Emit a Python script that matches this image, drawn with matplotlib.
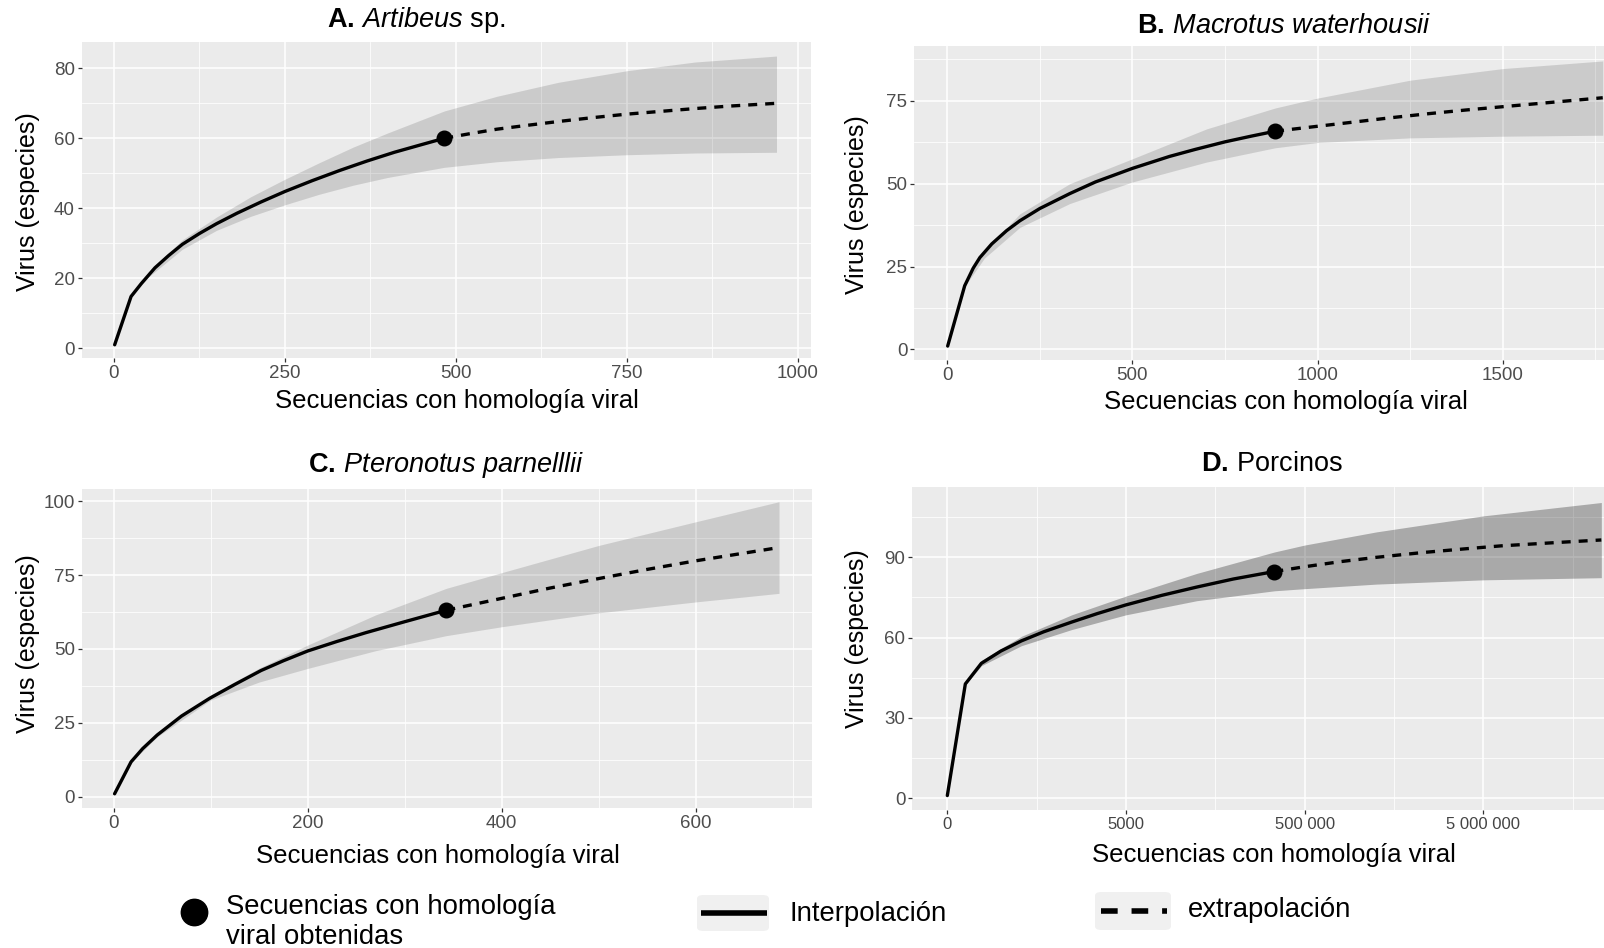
import matplotlib
matplotlib.use('Agg')
import matplotlib.pyplot as plt
from matplotlib.lines import Line2D
from matplotlib.patches import FancyBboxPatch

plt.rcParams['font.family'] = ['Liberation Sans', 'DejaVu Sans']
plt.rcParams['mathtext.fontset'] = 'custom'
plt.rcParams['mathtext.rm'] = 'Liberation Sans'
plt.rcParams['mathtext.it'] = 'Liberation Sans:italic'
plt.rcParams['mathtext.bf'] = 'Liberation Sans:bold'

# ---------------- data ----------------
# A. Artibeus sp.
a_x_int = [1, 25, 40, 60, 80, 100, 125, 150, 180, 215, 250, 290, 330, 370, 410, 450, 483]
a_y_int = [1, 14.8, 18.5, 23, 26.5, 29.7, 32.8, 35.6, 38.6, 41.8, 44.8, 47.9, 50.8, 53.5, 56, 58.2, 60]
a_x_ext = [483, 520, 560, 600, 650, 700, 750, 800, 850, 900, 969]
a_y_ext = [60, 61.3, 62.6, 63.6, 64.8, 65.9, 66.9, 67.7, 68.5, 69.2, 70]
a_x_band = [1, 25, 50, 100, 150, 200, 250, 300, 350, 400, 483, 560, 650, 750, 850, 969]
a_lo = [1, 14.6, 20.3, 28.3, 33.7, 37.7, 41, 44, 46.6, 48.8, 51.7, 53.3, 54.5, 55.3, 55.8, 56]
a_hi = [1, 15, 21.8, 31, 37.5, 43.3, 48.3, 53, 57.5, 61.5, 67.8, 72, 76, 79.3, 81.8, 83.5]

# B. Macrotus waterhousii
b_x_int = [1, 47, 70, 88, 120, 160, 196, 250, 331, 400, 500, 600, 669, 750, 820, 885]
b_y_int = [1, 19.2, 24.5, 27.7, 31.8, 35.8, 38.8, 42.5, 47, 50.5, 54.6, 58.2, 60.3, 62.6, 64.3, 65.8]
b_x_ext = [885, 1000, 1100, 1200, 1300, 1400, 1500, 1600, 1700, 1770]
b_y_ext = [65.8, 67.3, 68.6, 69.9, 71.1, 72.2, 73.2, 74.2, 75.2, 75.9]
b_x_band = [1, 47, 100, 196, 331, 500, 700, 885, 1000, 1250, 1500, 1770]
b_lo = [1, 19, 27.5, 36.8, 44, 50.5, 56.5, 60.8, 62.4, 63.8, 64.3, 64.6]
b_hi = [1, 19.5, 29.6, 40.9, 50, 57.5, 66.5, 72.8, 75.8, 81.2, 84.7, 87]

# C. Pteronotus parnellii
c_x_int = [1, 18, 30, 45, 70, 99, 125, 152, 175, 200, 230, 260, 300, 343]
c_y_int = [1, 11.8, 16.3, 20.9, 27.3, 33.3, 38, 42.7, 46, 49.3, 52.5, 55.5, 59.2, 63.1]
c_x_ext = [343, 400, 450, 500, 550, 600, 686]
c_y_ext = [63.1, 67.1, 70.6, 73.8, 76.9, 79.8, 84.3]
c_x_band = [1, 18, 45, 100, 150, 200, 270, 343, 400, 500, 600, 686]
c_lo = [1, 11.6, 20.3, 32.7, 38.8, 43.4, 49.4, 54.5, 57.5, 62.2, 65.9, 68.8]
c_hi = [1, 12, 21.5, 34.4, 43.5, 51.3, 61.5, 70.5, 75.8, 85, 93, 99.8]

# D. Porcinos
d_x_int = [1, 505, 953, 1500, 2075, 2700, 3476, 4200, 4990, 6000, 6980, 8000, 9150]
d_y_int = [1, 42.7, 50.4, 55, 58.8, 62.2, 65.8, 69, 72.2, 75.8, 78.9, 81.9, 84.7]
d_x_ext = [9150, 10000, 11000, 12000, 13300, 14500, 15500, 17000, 18300]
d_y_ext = [84.7, 86.5, 88.4, 90, 91.8, 93.2, 94.3, 95.5, 96.5]
d_x_band = [1, 505, 953, 2075, 3476, 4990, 6980, 9150, 10000, 12000, 15000, 18300]
d_lo = [1, 42.4, 49.5, 57, 63, 68.5, 73.8, 77.5, 78.3, 80, 81.6, 82.4]
d_hi = [1, 43, 51.5, 60.5, 68.5, 75.5, 84, 92, 94.6, 99.5, 105.5, 110.5]

a_xticks = [0, 250, 500, 750, 1000]
a_yticks = [0, 20, 40, 60, 80]
b_xticks = [0, 500, 1000, 1500]
b_yticks = [0, 25, 50, 75]
c_xticks = [0, 200, 400, 600]
c_yticks = [0, 25, 50, 75, 100]
d_xticks = [0, 5000, 10000, 15000]
d_xticklabels = ['0', '5000', '500 000', '5 000 000']
d_yticks = [0, 30, 60, 90]

titles = [r'$\mathbf{A.}\,\mathit{Artibeus}$ sp.',
          r'$\mathbf{B.}\,\mathit{Macrotus\ waterhousii}$',
          r'$\mathbf{C.}\,\mathit{Pteronotus\ parnelllii}$',
          r'$\mathbf{D.}\,\mathrm{Porcinos}$']
xlabel = 'Secuencias con homología viral'
ylabel = 'Virus (especies)'
leg_labels = ['Secuencias con homología\nviral obtenidas', 'Interpolación', 'extrapolación']

# ---------------- figure ----------------
W, H = 1604, 948
fig = plt.figure(figsize=(W / 100, H / 100), dpi=100)


def fx(x):
    return x / W


def fy(y):
    return 1 - y / H


def add_ax(l, t, r, b):
    return fig.add_axes([l / W, 1 - b / H, (r - l) / W, (b - t) / H])


def panel(ax, xi, yi, xe, ye, xb, lo, hi, band_alpha, xlim, ylim,
          xticks, yticks, xminor, yminor, xticklabels=None, xtsize=13.5):
    ax.set_facecolor('#ebebeb')
    for s in ax.spines.values():
        s.set_visible(False)
    ax.set_xticks(xticks)
    ax.set_yticks(yticks)
    if xticklabels is not None:
        ax.set_xticklabels(xticklabels)
    ax.set_xticks(xminor, minor=True)
    ax.set_yticks(yminor, minor=True)
    ax.set_xlim(xlim)
    ax.set_ylim(ylim)
    ax.grid(which='major', color='white', lw=1.1)
    ax.grid(which='minor', color='white', lw=0.55)
    ax.set_axisbelow(True)
    ax.tick_params(which='minor', length=0)
    ax.tick_params(which='major', length=3, width=0.9, color='#333333',
                   labelsize=13.5, labelcolor='#4d4d4d', pad=2)
    ax.tick_params(axis='x', labelsize=xtsize)
    ax.fill_between(xb, lo, hi, color='black', alpha=band_alpha, lw=0)
    ax.plot(xi, yi, color='black', lw=2.4, solid_capstyle='round',
            solid_joinstyle='round')
    ax.plot(xe, ye, color='black', lw=2.4, dashes=(2.7, 2.4), dash_capstyle='butt')
    ax.plot([xi[-1]], [yi[-1]], 'o', color='black', ms=10.5)


axA = add_ax(81.7, 41.7, 810.7, 358.3)
panel(axA, a_x_int, a_y_int, a_x_ext, a_y_ext, a_x_band, a_lo, a_hi, 0.135,
      (-47.2, 1019), (-2.86, 87.6), a_xticks, a_yticks,
      [125, 375, 625, 875], [10, 30, 50, 70])

axB = add_ax(914.3, 45.7, 1640, 360)
panel(axB, b_x_int, b_y_int, b_x_ext, b_y_ext, b_x_band, b_lo, b_hi, 0.135,
      (-89.1, 1870.6), (-3.2, 91.6), b_xticks, b_yticks,
      [250, 750, 1250, 1750], [12.5, 37.5, 62.5, 87.5])

axC = add_ax(81.7, 489, 812, 808)
panel(axC, c_x_int, c_y_int, c_x_ext, c_y_ext, c_x_band, c_lo, c_hi, 0.135,
      (-32.9, 720), (-3.8, 104.1), c_xticks, c_yticks,
      [100, 300, 500, 700], [12.5, 37.5, 62.5, 87.5])

axD = add_ax(912.3, 486.7, 1640, 810)
panel(axD, d_x_int, d_y_int, d_x_ext, d_y_ext, d_x_band, d_lo, d_hi, 0.28,
      (-979, 19382), (-4.4, 116.4), d_xticks, d_yticks,
      [2500, 7500, 12500, 17500], [15, 45, 75, 105],
      xticklabels=d_xticklabels, xtsize=12)
for lab in axD.get_xticklabels():
    lab.set_color('#444444')

# titles
tfs = 19.5
fig.text(fx(416), fy(20), titles[0], ha='center', va='center', fontsize=tfs)
fig.text(fx(1284), fy(26), titles[1], ha='center', va='center', fontsize=tfs)
fig.text(fx(446), fy(465), titles[2], ha='center', va='center', fontsize=tfs)
fig.text(fx(1272), fy(464), titles[3], ha='center', va='center', fontsize=tfs)

# axis labels
for (x, y) in [(457, 401), (1286, 402), (438, 856), (1274, 855)]:
    fig.text(fx(x), fy(y), xlabel, ha='center', va='center', fontsize=18.5)
for (x, y) in [(28, 202), (857, 205), (28, 644), (857, 639)]:
    fig.text(fx(x), fy(y), ylabel, ha='center', va='center', fontsize=18,
             rotation=90)

# legend
fig.add_artist(Line2D([fx(194)], [fy(912)], marker='o', color='black', ms=19,
                      transform=fig.transFigure))
fig.text(fx(226), fy(922), leg_labels[0], ha='left', va='center', fontsize=19.8,
         linespacing=1.22)

fig.add_artist(FancyBboxPatch((fx(697), fy(931)), fx(72), 36 / H,
                              boxstyle='round,pad=0,rounding_size=0.004',
                              transform=fig.transFigure, fc='#f0f0f0', ec='none'))
fig.add_artist(Line2D([fx(701), fx(767)], [fy(913), fy(913)], color='black',
                      lw=4, transform=fig.transFigure, solid_capstyle='butt'))
fig.text(fx(790), fy(914), leg_labels[1], ha='left', va='center', fontsize=19.8)

fig.add_artist(FancyBboxPatch((fx(1095), fy(930)), fx(76), 38 / H,
                              boxstyle='round,pad=0,rounding_size=0.004',
                              transform=fig.transFigure, fc='#f0f0f0', ec='none'))
fig.add_artist(Line2D([fx(1101), fx(1167)], [fy(911), fy(911)], color='black',
                      lw=4, dashes=(3, 2.5), transform=fig.transFigure))
fig.text(fx(1188), fy(910), leg_labels[2], ha='left', va='center', fontsize=19.8)

fig.savefig('out.png', dpi=100)
